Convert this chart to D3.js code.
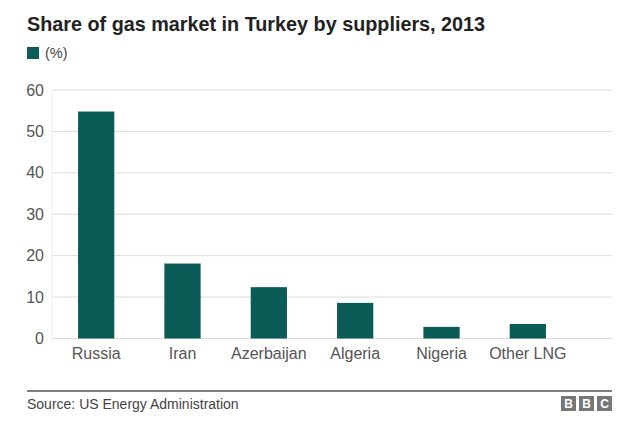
<!DOCTYPE html>
<html><head><meta charset="utf-8">
<script src="https://cdn.jsdelivr.net/npm/d3@7"></script>
<style>
html,body{margin:0;padding:0;background:#fff;}
svg{display:block;font-family:"Liberation Sans",Arial,sans-serif;}
</style></head>
<body>
<svg id="chart" width="640" height="425"></svg>
<script>
const categories = ["Russia","Iran","Azerbaijan","Algeria","Nigeria","Other LNG"];
const shares = [54.8, 18.1, 12.4, 8.6, 2.8, 3.5];
const yTicks = [0,10,20,30,40,50,60];

const svg = d3.select("#chart");
const barColor = "#0b5b56";

const x = d3.scaleBand().domain(categories).range([53, 571]).paddingInner(0.58).paddingOuter(0.29);
const y = d3.scaleLinear().domain([0,60]).range([338.5, 90]);

// title
svg.append("text").attr("x",27).attr("y",31)
  .attr("font-size",19.8).attr("font-weight","bold").attr("fill","#222")
  .text("Share of gas market in Turkey by suppliers, 2013");

// legend
svg.append("rect").attr("x",27).attr("y",47).attr("width",12).attr("height",12).attr("fill",barColor);
svg.append("text").attr("x",45).attr("y",58).attr("font-size",14.5).attr("fill","#444").text("(%)");

// gridlines
svg.append("g").selectAll("line").data(yTicks).join("line")
  .attr("x1",52).attr("x2",612)
  .attr("y1",d=>y(d)).attr("y2",d=>y(d))
  .attr("stroke","#dcdcdc").attr("stroke-width",1);
// left faint axis
svg.append("line").attr("x1",52).attr("x2",52).attr("y1",y(60)).attr("y2",y(0)+3)
  .attr("stroke","#ececec");

// y axis labels
const yAxis = d3.axisLeft(y).tickValues(yTicks).tickSize(0).tickPadding(0);
const gy = svg.append("g").attr("transform","translate(44,0)").call(yAxis);
gy.select(".domain").remove();
gy.selectAll("text").attr("font-size",16).attr("fill","#555").attr("font-family","Liberation Sans, Arial, sans-serif");

// bars
svg.append("g").selectAll("rect").data(categories).join("rect")
  .attr("x",d=>x(d)).attr("width",x.bandwidth())
  .attr("y",(d,i)=>y(shares[i])).attr("height",(d,i)=>y(0)-y(shares[i]))
  .attr("fill",barColor);

// x axis labels
const xAxis = d3.axisBottom(x).tickSize(0).tickPadding(0);
const gx = svg.append("g").attr("transform","translate(0,348)").call(xAxis);
gx.select(".domain").remove();
gx.selectAll("text").attr("font-size",16).attr("fill","#555").attr("dy","0.71em").attr("font-family","Liberation Sans, Arial, sans-serif");

// footer
svg.append("line").attr("x1",27).attr("x2",612).attr("y1",391).attr("y2",391).attr("stroke","#555").attr("stroke-width",1.3);
svg.append("text").attr("x",27).attr("y",409).attr("font-size",14).attr("fill","#444").text("Source: US Energy Administration");

const logo = ["B","B","C"];
const lg = svg.append("g").selectAll("g").data(logo).join("g")
  .attr("transform",(d,i)=>`translate(${561+i*18},396)`);
lg.append("rect").attr("width",15).attr("height",15).attr("fill","#777");
lg.append("text").attr("x",7.5).attr("y",12).attr("text-anchor","middle")
  .attr("font-size",12).attr("font-weight","bold").attr("fill","#fff").text(d=>d);
</script>
</body></html>
